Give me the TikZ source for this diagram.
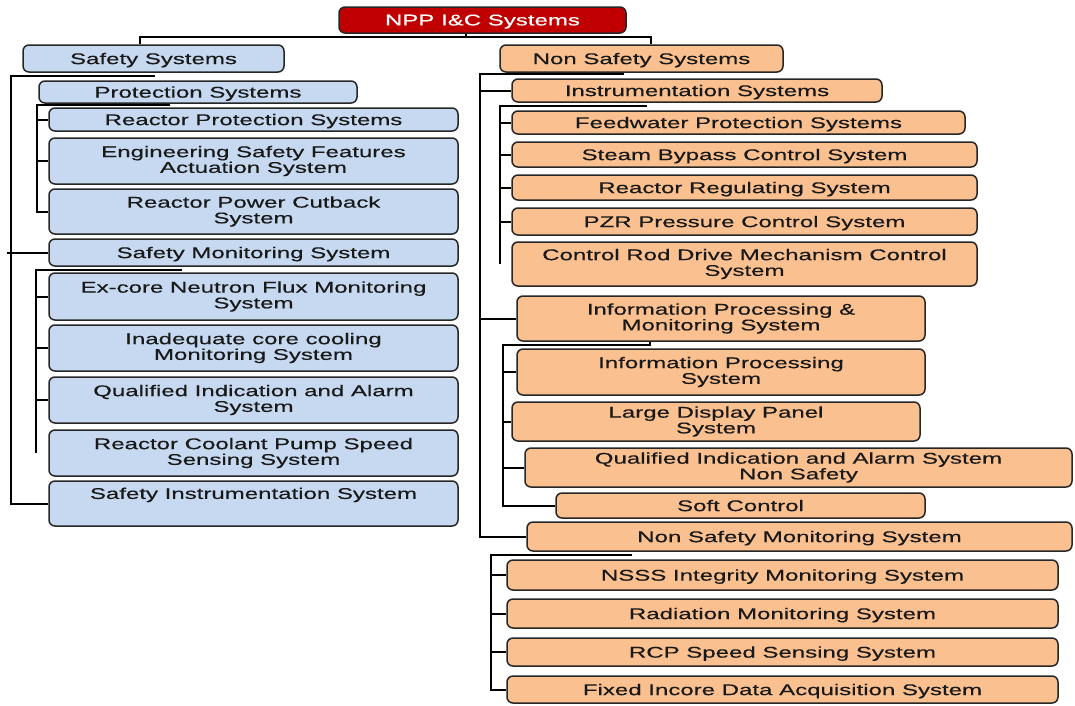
\documentclass[tikz,border=0pt]{standalone}
\usepackage{fontspec}
\setmainfont{Liberation Sans}[FakeStretch=1.55,FakeBold=0.4]
\usetikzlibrary{calc}
\definecolor{safefill}{HTML}{C6D9F1}
\definecolor{nonsafefill}{HTML}{FAC090}
\definecolor{rootfill}{HTML}{C00000}
\definecolor{edgegray}{HTML}{262626}
\tikzset{
  box/.style={draw=edgegray, line width=1.5pt, rounded corners=6pt, inner sep=0pt,
              align=center, font=\fontsize{15.5}{15.7}\selectfont, text=black!90},
  one/.style={text depth=0pt},
  sbox/.style={box, fill=safefill},
  nbox/.style={box, fill=nonsafefill},
  rootbox/.style={box, fill=rootfill, text=white},
  wire/.style={line width=2pt, black},
}
% style, name, centre x, centre y, width, height, label
\newcommand\sysbox[7]{\node[#1, minimum width=#5pt, minimum height=#6pt] (#2) at (#3,#4) {#7};}
\begin{document}
\begin{tikzpicture}[x=1pt,y=-1pt]
\useasboundingbox (0,0) rectangle (1075,705);

% root
\sysbox{rootbox,one}{root}{482.5}{20}{287}{26}{NPP I\&C Systems}

% safety branch
\sysbox{sbox,one}{ss}{153.5}{58.5}{261}{27}{Safety Systems}
\sysbox{sbox,one}{ps}{198}{92}{318}{22}{Protection Systems}
\sysbox{sbox,one}{rps}{253.5}{119.5}{409}{23}{Reactor Protection Systems}
\sysbox{sbox}{esf}{253.5}{161}{409}{46}{Engineering Safety Features\\Actuation System}
\sysbox{sbox}{rpc}{253.5}{211.5}{409}{45}{Reactor Power Cutback\\System}
\sysbox{sbox,one}{sms}{253.5}{252.5}{409}{27}{Safety Monitoring System}
\sysbox{sbox}{exc}{253.5}{296.5}{409}{47}{Ex-core Neutron Flux Monitoring\\System}
\sysbox{sbox}{icc}{253.5}{348}{409}{46}{Inadequate core cooling\\Monitoring System}
\sysbox{sbox}{qia}{253.5}{400}{409}{46}{Qualified Indication and Alarm\\System}
\sysbox{sbox}{rcp}{253.5}{453}{409}{46}{Reactor Coolant Pump Speed\\Sensing System}
\sysbox{sbox}{sis}{253.5}{503.5}{409}{45}{Safety Instrumentation System\\\strut}

% non-safety branch
\sysbox{nbox,one}{nss}{641.5}{58.5}{283}{27}{Non Safety Systems}
\sysbox{nbox,one}{ins}{697}{90.5}{370}{23}{Instrumentation Systems}
\sysbox{nbox,one}{fps}{738.5}{122.5}{453}{23}{Feedwater Protection Systems}
\sysbox{nbox,one}{sbc}{744.5}{154.5}{465}{25}{Steam Bypass Control System}
\sysbox{nbox,one}{rrs}{744.5}{187.5}{465}{25}{Reactor Regulating System}
\sysbox{nbox,one}{pzr}{744.5}{221.5}{465}{27}{PZR Pressure Control System}
\sysbox{nbox}{crd}{744.5}{264}{465}{44}{Control Rod Drive Mechanism Control\\System}
\sysbox{nbox}{ipm}{721}{318.5}{408}{45}{Information Processing \&\\Monitoring System}
\sysbox{nbox}{ips}{721}{372}{408}{46}{Information Processing\\System}
\sysbox{nbox}{ldp}{716}{421.5}{408}{39}{Large Display Panel\\System}
\sysbox{nbox}{qns}{798.5}{467.5}{547}{39}{Qualified Indication and Alarm System\\Non Safety}
\sysbox{nbox,one}{sc}{740.5}{505.5}{369}{25}{Soft Control}
\sysbox{nbox,one}{nsm}{799.5}{536.5}{545}{29}{Non Safety Monitoring System}
\sysbox{nbox,one}{nsi}{782.5}{575}{551}{30}{NSSS Integrity Monitoring System}
\sysbox{nbox,one}{rms}{782.5}{613.5}{551}{29}{Radiation Monitoring System}
\sysbox{nbox,one}{rcs}{782.5}{652}{551}{28}{RCP Speed Sensing System}
\sysbox{nbox,one}{fid}{782.5}{689.5}{551}{27}{Fixed Incore Data Acquisition System}

% bus joints
\coordinate (rj) at (466,37);
\coordinate (lb) at (140,37);
\coordinate (rb) at (651,37);
\coordinate (lm) at (11,76);     \coordinate (lmEnd) at (155,76);
\coordinate (pb) at (37,105);    \coordinate (pbEnd) at (170,105);
\coordinate (mb) at (36,270);    \coordinate (mbEnd) at (182,270);
\coordinate (rm) at (480,74);    \coordinate (rmEnd) at (624,74);
\coordinate (ib) at (500,106);   \coordinate (ibEnd) at (647,106);
\coordinate (qb) at (503,345);   \coordinate (qbEnd) at (650,345);
\coordinate (nb) at (491,555);   \coordinate (nbEnd) at (632,555);
\coordinate (smsTick) at (7,0);

% top level
\draw[wire] (root.south -| rj) -- (rj);
\draw[wire] (ss.north -| lb) -- (lb) -- (rb) -- (nss.north -| rb);

% safety systems
\draw[wire] (lmEnd) -- (lm) |- (sis.west);
\draw[wire] (smsTick |- sms.west) -- (sms.west);
\draw[wire] (pbEnd) -- (pb) |- (rpc.west);
\draw[wire] (pb |- rps.west) -- (rps.west);
\draw[wire] (pb |- esf.west) -- (esf.west);
\draw[wire] (mbEnd) -- (mb) -- (mb |- rcp.west);
\draw[wire] (mb |- exc.west) -- (exc.west);
\draw[wire] (mb |- icc.west) -- (icc.west);
\draw[wire] (mb |- qia.west) -- (qia.west);

% non safety systems
\draw[wire] (rmEnd) -- (rm) |- (nsm.west);
\draw[wire] (rm |- ins.west) -- (ins.west);
\draw[wire] (rm |- ipm.west) -- (ipm.west);
\draw[wire] (ibEnd) -- (ib) -- (ib |- crd.west);
\draw[wire] (ib |- fps.west) -- (fps.west);
\draw[wire] (ib |- sbc.west) -- (sbc.west);
\draw[wire] (ib |- rrs.west) -- (rrs.west);
\draw[wire] (ib |- pzr.west) -- (pzr.west);
\draw[wire] (ipm.south -| qbEnd) -- (qbEnd) -- (qb) |- (sc.west);
\draw[wire] (qb |- ips.west) -- (ips.west);
\draw[wire] (qb |- ldp.west) -- (ldp.west);
\draw[wire] (qb |- qns.west) -- (qns.west);
\draw[wire] (nbEnd) -- (nb) |- (fid.west);
\draw[wire] (nb |- nsi.west) -- (nsi.west);
\draw[wire] (nb |- rms.west) -- (rms.west);
\draw[wire] (nb |- rcs.west) -- (rcs.west);
\end{tikzpicture}
\end{document}
